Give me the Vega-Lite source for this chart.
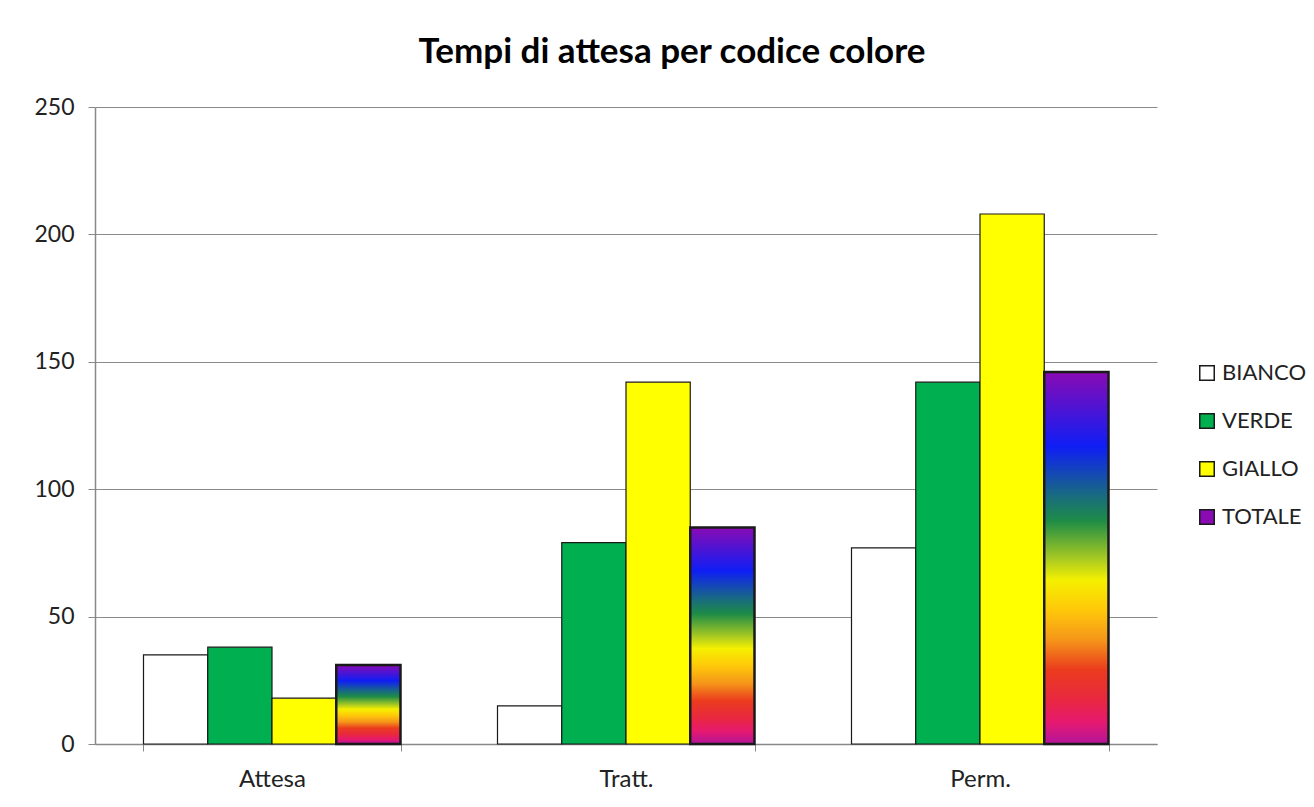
{
  "$schema": "https://vega.github.io/schema/vega-lite/v6.json",
  "autosize": "none",
  "width": 1062,
  "height": 637,
  "padding": {"left": 95, "top": 107, "right": 157, "bottom": 63},
  "background": "white",
  "title": {
    "text": "Tempi di attesa per codice colore",
    "font": "Lato",
    "fontSize": 35,
    "fontWeight": "bold",
    "color": "#000000",
    "anchor": "middle",
    "dx": 46,
    "offset": 26
  },
  "data": {
    "values": [
      {"fase": "Attesa", "serie": "BIANCO", "valore": 35},
      {"fase": "Attesa", "serie": "VERDE", "valore": 38},
      {"fase": "Attesa", "serie": "GIALLO", "valore": 18},
      {"fase": "Attesa", "serie": "TOTALE", "valore": 31},
      {"fase": "Tratt.", "serie": "BIANCO", "valore": 15},
      {"fase": "Tratt.", "serie": "VERDE", "valore": 79},
      {"fase": "Tratt.", "serie": "GIALLO", "valore": 142},
      {"fase": "Tratt.", "serie": "TOTALE", "valore": 85},
      {"fase": "Perm.", "serie": "BIANCO", "valore": 77},
      {"fase": "Perm.", "serie": "VERDE", "valore": 142},
      {"fase": "Perm.", "serie": "GIALLO", "valore": 208},
      {"fase": "Perm.", "serie": "TOTALE", "valore": 146}
    ]
  },
  "mark": {"type": "bar", "stroke": "#1a1a1a"},
  "encoding": {
    "x": {
      "field": "fase",
      "type": "nominal",
      "sort": ["Attesa", "Tratt.", "Perm."],
      "scale": {"paddingInner": 0.274, "paddingOuter": 0.137},
      "axis": {
        "title": null,
        "labelAngle": 0,
        "labelFont": "Lato",
        "labelFontSize": 24,
        "labelColor": "#222222",
        "labelPadding": 16,
        "tickBand": "extent",
        "tickColor": "#888888",
        "tickSize": 7,
        "domainColor": "#888888",
        "domainWidth": 1.5,
        "grid": false
      }
    },
    "xOffset": {
      "field": "serie",
      "type": "nominal",
      "sort": ["BIANCO", "VERDE", "GIALLO", "TOTALE"],
      "scale": {"paddingInner": 0, "paddingOuter": 0}
    },
    "y": {
      "field": "valore",
      "type": "quantitative",
      "scale": {"domain": [0, 250]},
      "axis": {
        "title": null,
        "values": [0, 50, 100, 150, 200, 250],
        "labelFont": "Lato",
        "labelFontSize": 23,
        "labelColor": "#222222",
        "labelPadding": 14,
        "tickColor": "#888888",
        "tickSize": 7,
        "domainColor": "#888888",
        "domainWidth": 1.5,
        "gridColor": "#8a8a8a",
        "gridWidth": 1
      }
    },
    "fill": {
      "condition": {
        "test": "datum.serie === 'TOTALE'",
        "value": {
          "gradient": "linear",
          "x1": 0, "y1": 0, "x2": 0, "y2": 1,
          "stops": [
            {"offset": 0, "color": "#8a0ab4"},
            {"offset": 0.2, "color": "#0f1ef5"},
            {"offset": 0.33, "color": "#186a82"},
            {"offset": 0.4, "color": "#1e8c46"},
            {"offset": 0.5, "color": "#a5c823"},
            {"offset": 0.56, "color": "#f5f000"},
            {"offset": 0.64, "color": "#ffc80a"},
            {"offset": 0.72, "color": "#f59619"},
            {"offset": 0.8, "color": "#eb3c1e"},
            {"offset": 0.88, "color": "#e8283f"},
            {"offset": 0.94, "color": "#e6196e"},
            {"offset": 1, "color": "#b4149b"}
          ]
        }
      },
      "field": "serie",
      "type": "nominal",
      "sort": ["BIANCO", "VERDE", "GIALLO", "TOTALE"],
      "scale": {
        "domain": ["BIANCO", "VERDE", "GIALLO", "TOTALE"],
        "range": ["#ffffff", "#00b050", "#ffff00", "#8a0ab4"]
      },
      "legend": {
        "title": null,
        "orient": "none",
        "legendX": 1101,
        "legendY": 255,
        "symbolType": "square",
        "symbolSize": 210,
        "labelFont": "Lato",
        "labelFontSize": 22,
        "labelColor": "#222222",
        "labelLimit": 300,
        "rowPadding": 26,
        "labelOffset": 4,
        "encode": {
          "symbols": {
            "stroke": {"value": "#000000"},
            "strokeWidth": {"value": 1.5},
            "opacity": {"value": 1}
          }
        }
      }
    },
    "strokeWidth": {
      "condition": {"test": "datum.serie === 'TOTALE'", "value": 2.5},
      "value": 1.2
    }
  },
  "config": {
    "view": {"stroke": null}
  }
}
